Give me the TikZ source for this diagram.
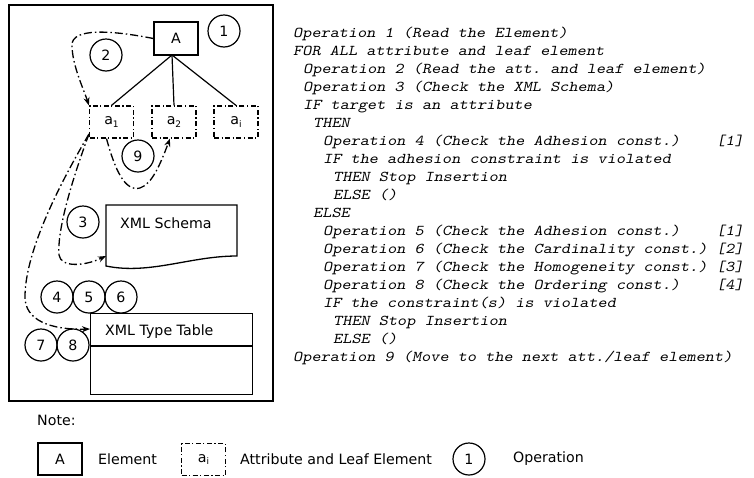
\documentclass[tikz,border=0pt]{standalone}
\usepackage{fontspec}
\setmainfont{DejaVu Sans}
% typewriter face for the procedure, slanted and widened to a Courier-like pitch
\newfontfamily\codefont{lmmono10-regular.otf}[FakeStretch=1.162, FakeSlant=0.2]
\usetikzlibrary{arrows.meta}
% small lowered index for the leaf labels
\newcommand\leafsub[1]{\raisebox{-0.35ex}{\fontsize{9}{9}\selectfont #1}}
\begin{document}
\begin{tikzpicture}[x=1pt,y=-1pt,
  txt/.style={font=\fontsize{14.2}{16}\selectfont, inner sep=0pt},
  elem/.style={draw, line width=1.3pt, minimum width=44pt, minimum height=33pt,
    inner sep=0pt, font=\fontsize{14.2}{16}\selectfont},
  leaf/.style={draw, line width=1.2pt, dash pattern=on 5pt off 2.5pt on 1.2pt off 2.5pt,
    minimum width=44pt, minimum height=32pt, inner sep=0pt, font=\fontsize{14.2}{16}\selectfont},
  op/.style={draw, circle, line width=1.2pt, minimum size=32pt, inner sep=0pt,
    font=\fontsize{14.2}{16}\selectfont},
  flow/.style={line width=1.3pt, dash pattern=on 8pt off 3pt on 1.5pt off 3pt,
    -{Stealth[length=8pt,width=6pt]}},
  code/.style={anchor=base west, inner sep=0pt,
    font=\codefont\fontsize{15}{18}\selectfont\frenchspacing},
]
\useasboundingbox (0,0) rectangle (754,477);

% frame of the data model
\draw[line width=1.8pt] (9,5) rectangle (273,401);

% element and its attributes / leaf elements
\node[elem] (A) at (176,38.5) {A};
\node[leaf] (a1) at (111.5,122) {a\leafsub{1}};
\node[leaf] (a2) at (174,122) {a\leafsub{2}};
\node[leaf] (ai) at (236,122) {a\leafsub{i}};
\coordinate (root) at (172,55);
\draw[line width=1.2pt] (root) -- (a1.north);
\draw[line width=1.2pt] (root) -- (a2.north);
\draw[line width=1.2pt] (root) -- (ai.north);

% XML Schema document
\draw[line width=1.3pt] (106,205) -- (237,205) -- (237,256)
  .. controls (190,256) and (150,275) .. (106,266) -- cycle;
\node[txt, anchor=base west] (schema) at (120,228) {XML Schema};
\coordinate (schemaIn) at (106,256);

% XML Type Table
\node[draw, line width=1.3pt, minimum width=162pt, minimum height=81pt,
  inner sep=0pt, anchor=north west] (tt) at (90,313) {};
\draw[line width=1.2pt] (90,346) -- (252,346);
\node[txt, anchor=base west] (ttlabel) at (105,335) {XML Type Table};
\coordinate (ttIn) at (90,329);

% operations
\node[op] (o1) at (224,31) {1};
\node[op] (o2) at (106,55) {2};
\node[op] (o9) at (138,156) {9};
\node[op] (o3) at (83,222) {3};
\node[op] (o4) at (57,297) {4};
\node[op] (o5) at (89,297) {5};
\node[op] (o6) at (121,297) {6};
\node[op] (o7) at (41,345) {7};
\node[op] (o8) at (73,345) {8};

% flows
\draw[flow] (A.west) .. controls (110,30) and (72,28) .. (72,45)
  .. controls (72,65) and (84,90) .. (a1.north west);
\draw[flow] ([xshift=-5pt]a1.south) .. controls (115,170) and (125,192) .. (140,188)
  .. controls (152,184) and (160,165) .. ([xshift=-4pt]a2.south);
\coordinate (a1out) at (89,134);
\draw[flow] (a1out) .. controls (72,180) and (57,230) .. (59,255)
  .. controls (61,268) and (85,266) .. (schemaIn);
\draw[flow] (a1out) .. controls (62,180) and (25,250) .. (25,297)
  .. controls (25,320) and (50,330) .. (ttIn);

% procedure
\node[code] (l1)  at (293,37)  {Operation 1 (Read the Element)};
\node[code] (l2)  at (293,55)  {FOR ALL attribute and leaf element};
\node[code] (l3)  at (303,73)  {Operation 2 (Read the att. and leaf element)};
\node[code] (l4)  at (303,91)  {Operation 3 (Check the XML Schema)};
\node[code] (l5)  at (303,109) {IF target is an attribute};
\node[code] (l6)  at (313,127) {THEN};
\node[code] (l7)  at (323,145) {Operation 4 (Check the Adhesion const.)};
\node[code] (l8)  at (323,163) {IF the adhesion constraint is violated};
\node[code] (l9)  at (333,181) {THEN Stop Insertion};
\node[code] (l10) at (333,199) {ELSE ()};
\node[code] (l11) at (313,217) {ELSE};
\node[code] (l12) at (323,235) {Operation 5 (Check the Adhesion const.)};
\node[code] (l13) at (323,253) {Operation 6 (Check the Cardinality const.)};
\node[code] (l14) at (323,271) {Operation 7 (Check the Homogeneity const.)};
\node[code] (l15) at (323,289) {Operation 8 (Check the Ordering const.)};
\node[code] (l16) at (323,307) {IF the constraint(s) is violated};
\node[code] (l17) at (333,325) {THEN Stop Insertion};
\node[code] (l18) at (333,343) {ELSE ()};
\node[code] (l19) at (293,361) {Operation 9 (Move to the next att./leaf element)};
\node[code] (r7)  at (716,145) {[1]};
\node[code] (r12) at (716,235) {[1]};
\node[code] (r13) at (716,253) {[2]};
\node[code] (r14) at (716,271) {[3]};
\node[code] (r15) at (716,289) {[4]};

% legend
\node[txt, anchor=west] (note) at (37,420) {Note:};
\node[elem, minimum height=32pt] (kA) at (60,459) {A};
\node[txt, anchor=west] (kAt) at (98,459) {Element};
\node[leaf] (kai) at (203.5,459.5) {a\leafsub{i}};
\node[txt, anchor=west] (kait) at (240,459) {Attribute and Leaf Element};
\node[op] (kop) at (469,459) {1};
\node[txt, anchor=west] (kopt) at (513,459) {Operation};
\end{tikzpicture}
\end{document}
